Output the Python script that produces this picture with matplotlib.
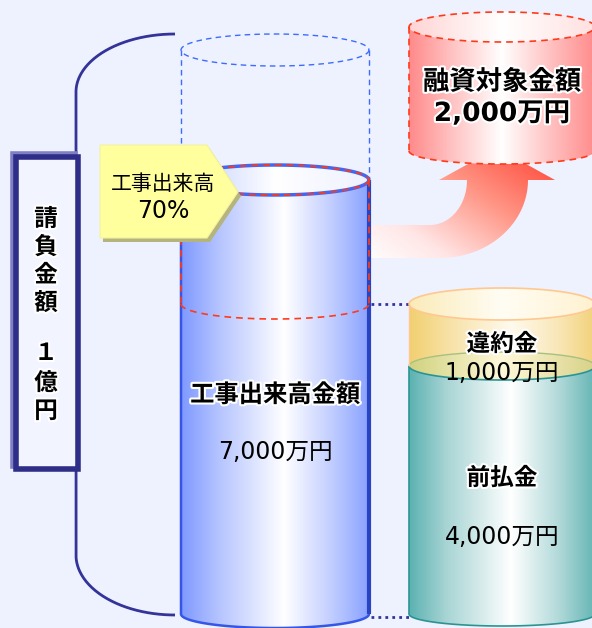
import matplotlib
matplotlib.use('Agg')
import matplotlib.pyplot as plt
import matplotlib.patheffects as pe
from matplotlib.patches import Polygon, Rectangle
from matplotlib.colors import LinearSegmentedColormap
import numpy as np

plt.rcParams['font.family'] = ['Noto Sans CJK JP', 'DejaVu Sans']
NUMFONT = ['DejaVu Sans', 'Noto Sans CJK JP']

# amounts (万円)
contract = 10000
completed = 7000
prepaid = 4000
penalty = 1000
financing = 2000
completed_rate = 70

labels_contract = ['請', '負', '金', '額', '', '１', '億', '円']

BG = '#EEF2FE'
NAVY = '#333399'
base_y = 614      # cylinder floor
scale = 0.062     # px per 万円

fig = plt.figure(figsize=(5.92, 6.28), dpi=100)
fig.patch.set_facecolor(BG)
ax = fig.add_axes([0, 0, 1, 1])
ax.set_facecolor(BG)
ax.axis('off')

glow = [pe.withStroke(linewidth=3, foreground='white')]


def arc(cx, cy, rx, ry, t0, t1, n=80):
    t = np.linspace(t0, t1, n)
    return np.column_stack([cx + rx*np.cos(t), cy + ry*np.sin(t)])


def body(cx, rx, ytop, ybot, ryt, ryb):
    left = np.array([[cx-rx, ytop], [cx-rx, ybot]])
    bot = arc(cx, ybot, rx, ryb, np.pi, 0)
    top = arc(cx, ytop, rx, ryt, 0, -np.pi)
    return np.vstack([left, bot, top])


def gfill(verts, stops, z, func=None):
    cmap = LinearSegmentedColormap.from_list('g', stops)
    x0, y0 = verts.min(axis=0)
    x1, y1 = verts.max(axis=0)
    xx, yy = np.meshgrid(np.linspace(0, 1, 256), np.linspace(0, 1, 256))
    arr = xx if func is None else func(xx, yy)
    clip = Polygon(verts, closed=True, fc='none', ec='none')
    ax.add_patch(clip)
    im = ax.imshow(arr, cmap=cmap, vmin=0, vmax=1, extent=(x0, x1, y1, y0),
                   aspect='auto', zorder=z, interpolation='bilinear')
    im.set_clip_path(clip)


def line(pts, **kw):
    pts = np.asarray(pts)
    ax.plot(pts[:, 0], pts[:, 1], solid_capstyle='butt', **kw)


def label(x, y, s, size, bold=False, num=False):
    ax.text(x, y, s, ha='center', va='center', fontsize=size,
            fontweight='bold' if bold else 'normal', zorder=7,
            family=NUMFONT if num else None,
            path_effects=glow if bold else None)


# ---- left bracket + contract box
br = np.vstack([arc(175, 92, 99, 58, -np.pi/2, -np.pi),
                arc(175, 555, 99, 60, np.pi, np.pi/2)])
line(br, color=NAVY, lw=2, zorder=2)
ax.add_patch(Rectangle((13, 154), 62, 312, fc='none', ec='#7F7FC4', lw=4, zorder=3))
ax.add_patch(Rectangle((16, 157), 62, 312, fc='#F2F4FF', ec='#2E2E88', lw=4, zorder=3))
ys = [219, 247, 275, 303, 0, 353, 383, 411]
for ch, y in zip(labels_contract, ys):
    if ch:
        label(46, y, ch, 17, bold=True)

# ---- main cylinder (completed work)
mcx, mrx = 275, 94
mtop = base_y - completed*scale
fin_bot = mtop + financing*scale
outline_top = 50
dash_blue = dict(color='#3D6BFF', lw=1, ls=(0, (4, 3)), zorder=2)
line(arc(mcx, outline_top, mrx, 16, 0, 2*np.pi), **dash_blue)
line([(mcx-mrx, outline_top), (mcx-mrx, mtop)], **dash_blue)
line([(mcx+mrx, outline_top), (mcx+mrx, mtop)], **dash_blue)

# arrow to financing cylinder
a_in = arc(430, 180, 37, 45, np.pi/2, 0, 40)
a_out = arc(440, 180, 88, 78, 0, np.pi/2, 40)
arrow = np.vstack([[(360, 225)], a_in, [(439, 180), (497, 148), (555, 180)], a_out,
                   [(360, 258)]])
gfill(arrow, [(0, '#FFFFFF'), (0.25, '#FFE6E6'), (0.6, '#FF9585'), (1, '#FF3F30')], 2,
      lambda x, y: 0.55*x + 0.45*(1-y))

mb = body(mcx, mrx, mtop, base_y, 15, 14)
gfill(mb, [(0, '#7E99FF'), (0.2, '#B5C4FF'), (0.55, '#FFFFFF'), (0.8, '#C2CEFF'),
           (1, '#8AA2FF')], 3)
line(np.vstack([[(mcx-mrx, mtop)], arc(mcx, base_y, mrx, 14, np.pi, 0), [(mcx+mrx, mtop)]]),
     color='#3556E8', lw=1.8, zorder=4)
line([(mcx+mrx, mtop), (mcx+mrx, base_y)], color='#2844C0', lw=3, zorder=4)
mt = arc(mcx, mtop, mrx, 15, 0, 2*np.pi)
gfill(mt, [(0, '#BCCBFF'), (0.5, '#FFFFFF'), (1, '#EEF1FF')], 4)
line(mt, color='#4466F0', lw=2.5, zorder=4)
dash_red = dict(color='#FF3A1A', lw=1.2, ls=(0, (4, 3)), zorder=5)
line(mt, **dash_red)
line([(mcx-mrx, mtop), (mcx-mrx, fin_bot)], **dash_red)
line([(mcx+mrx, mtop), (mcx+mrx, fin_bot)], **dash_red)
line(arc(mcx, fin_bot, mrx, 15, np.pi, 0), **dash_red)

# ---- yellow tag
tag = np.array([(100, 145), (207, 145), (238, 192), (207, 238), (100, 238)])
ax.add_patch(Polygon(tag + [3, 4], closed=True, fc='#B4B47C', ec='none', zorder=6))
ax.add_patch(Polygon(tag, closed=True, fc='#FFFF9E', ec='#F2F2A0', lw=0.8, zorder=6))
label(163, 184, '工事出来高', 15)
label(163, 211, f'{completed_rate}%', 17, num=True)

# ---- financing cylinder (top right)
fcx, frx = 502, 93
ftop = 27
fbot = ftop + financing*scale
fb = body(fcx, frx, ftop, fbot, 15, 13)
gfill(fb, [(0, '#FF8A8A'), (0.22, '#FFC0C0'), (0.5, '#FFFFFF'), (0.75, '#FFC4C4'),
           (1, '#FF8C8C')], 3)
ft = arc(fcx, ftop, frx, 15, 0, 2*np.pi)
gfill(ft, [(0, '#FFD4D4'), (0.5, '#FFFFFF'), (1, '#FFE0E0')], 4)
line(ft, **dash_red)
line([(fcx-frx, ftop), (fcx-frx, fbot)], **dash_red)
line([(fcx+frx, ftop), (fcx+frx, fbot)], **dash_red)
line(arc(fcx, fbot, frx, 13, np.pi, 0), **dash_red)
label(fcx, 82, '融資対象金額', 19, bold=True)
label(fcx, 114, f'{financing:,}万円', 19, bold=True, num=True)

# ---- right cylinder (prepaid + penalty)
rcx, rrx = 502, 93
div_y = base_y - prepaid*scale
rtop = div_y - penalty*scale
tb = body(rcx, rrx, div_y, base_y, 14, 12)
gfill(tb, [(0, '#5CB2B2'), (0.2, '#A8D4D4'), (0.55, '#FFFFFF'), (0.8, '#B4DADA'),
           (1, '#66B6B6')], 3)
line(np.vstack([[(rcx-rrx, div_y)], arc(rcx, base_y, rrx, 12, np.pi, 0),
                [(rcx+rrx, div_y)]]), color='#2A9494', lw=1.2, zorder=4)
yb = body(rcx, rrx, rtop, div_y, 16, 14)
gfill(yb, [(0, '#F2D070'), (0.25, '#F8E4AE'), (0.55, '#FFFAEE'), (0.8, '#F9E7B8'),
           (1, '#F2D27A')], 4)
dv = arc(rcx, div_y, rrx, 14, 0, 2*np.pi)
gfill(dv, [(0, '#D0D27E'), (0.5, '#FFF8DA'), (1, '#D8D288')], 4.5)
line(arc(rcx, div_y, rrx, 14, np.pi, 0), color='#2A9494', lw=1.2, zorder=4.6)
line(arc(rcx, div_y, rrx, 14, 0, -np.pi), color='#A8C080', lw=1, zorder=4.6)
rt = arc(rcx, rtop, rrx, 16, 0, 2*np.pi)
gfill(rt, [(0, '#FBEBB8'), (0.5, '#FFFDF4'), (1, '#FFF2D0')], 4.5)
line(rt, color='#FFC890', lw=1.2, zorder=4.6)
line([(rcx-rrx, rtop), (rcx-rrx, div_y)], color='#FFC890', lw=1, zorder=4.6)

label(rcx, 344, '違約金', 17, bold=True)
label(rcx, 373, f'{penalty:,}万円', 17, num=True)
label(rcx, 478, '前払金', 17, bold=True)
label(rcx, 537, f'{prepaid:,}万円', 17, num=True)

label(mcx, 395, '工事出来高金額', 17.5, bold=True)
label(mcx, 452, f'{completed:,}万円', 17, num=True)

# dotted connectors
for y in (rtop, base_y + 3):
    line([(mcx+mrx+2, y), (rcx-rrx, y)], color=NAVY, lw=2, ls=(0, (1, 1.5)), zorder=2)

ax.set_xlim(0, 592)
ax.set_ylim(628, 0)
fig.savefig('out.png', dpi=100, facecolor=BG)
